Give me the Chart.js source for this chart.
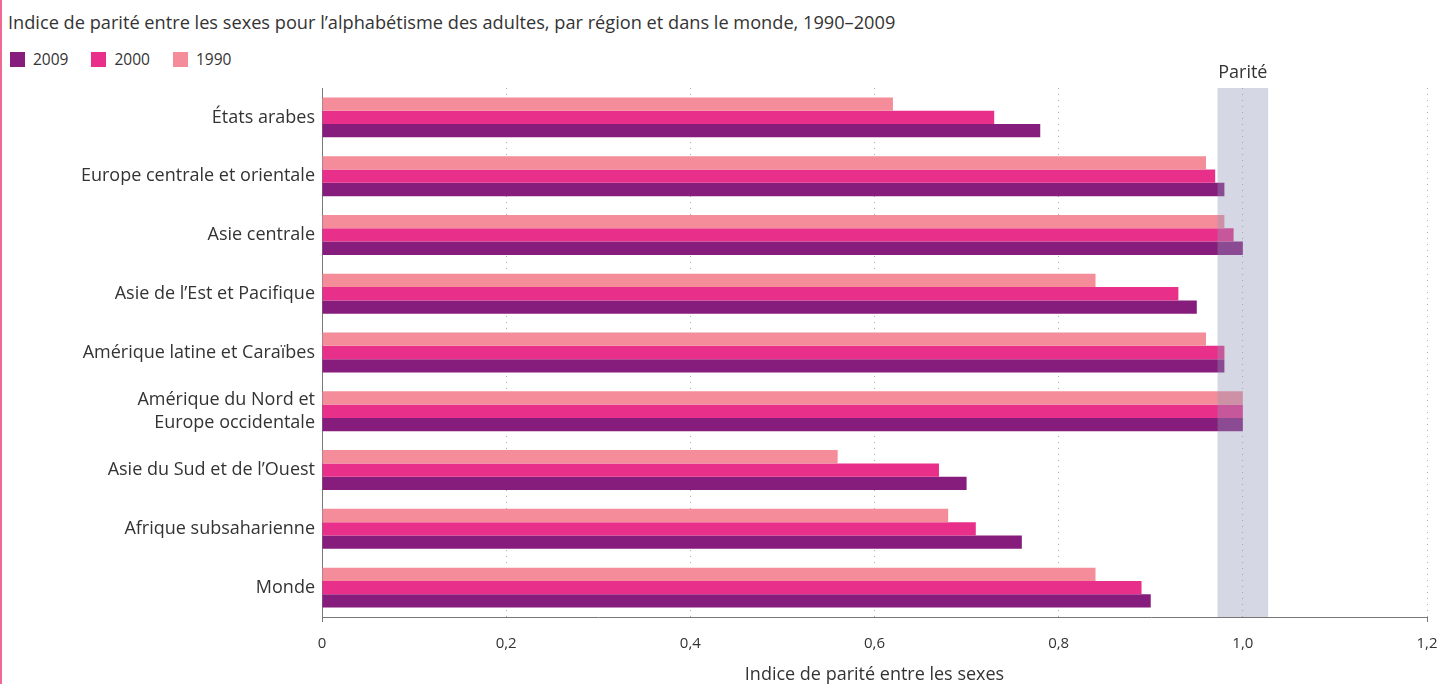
<!DOCTYPE html>
<html>
<head>
<meta charset="utf-8">
<script src="https://cdn.jsdelivr.net/npm/chart.js@4/dist/chart.umd.min.js"></script>
<style>
  html, body { margin: 0; padding: 0; background: #fff; }
  body { width: 1441px; height: 684px; position: relative; overflow: hidden; font-family: "Open Sans", sans-serif; }
  #frame { position: absolute; left: 0; top: 0; width: 2px; height: 684px; background: #EE6A95; }
  #title { position: absolute; left: 8px; top: 9px; font-size: 18.2px; color: #333; white-space: nowrap; line-height: 26px; }
  #legend { position: absolute; left: 10px; top: 49px; display: flex; font-size: 15.5px; color: #333; line-height: 20px; }
  #legend .item { display: flex; align-items: center; margin-right: 23px; }
  #legend .box { width: 15px; height: 15px; margin-right: 8px; }
  canvas { position: absolute; left: 0; top: 0; }
</style>
</head>
<body>
<div id="frame"></div>
<div id="title">Indice de parité entre les sexes pour l’alphabétisme des adultes, par région et dans le monde, 1990–2009</div>
<div id="legend"></div>
<canvas id="c" width="1441" height="684"></canvas>
<script>
const categories = [
  'États arabes',
  'Europe centrale et orientale',
  'Asie centrale',
  'Asie de l’Est et Pacifique',
  'Amérique latine et Caraïbes',
  ['Amérique du Nord et', 'Europe occidentale'],
  'Asie du Sud et de l’Ouest',
  'Afrique subsaharienne',
  'Monde'
];
const values1990 = [0.62, 0.96, 0.98, 0.84, 0.96, 1.00, 0.56, 0.68, 0.84];
const values2000 = [0.73, 0.97, 0.99, 0.93, 0.98, 1.00, 0.67, 0.71, 0.89];
const values2009 = [0.78, 0.98, 1.00, 0.95, 0.98, 1.00, 0.70, 0.76, 0.90];
const xTicks = [0, 0.2, 0.4, 0.6, 0.8, 1.0, 1.2];
const parityRange = [0.9725, 1.0275];
const parityLabel = 'Parité';
const xAxisTitle = 'Indice de parité entre les sexes';

const colors = { y2009: '#861C7B', y2000: '#E82F8A', y1990: '#F48C99' };

const parityPlugin = {
  id: 'parity',
  afterDatasetsDraw(chart) {
    const { ctx, chartArea, scales } = chart;
    const x0 = scales.x.getPixelForValue(parityRange[0]);
    const x1 = scales.x.getPixelForValue(parityRange[1]);
    ctx.save();
    ctx.fillStyle = 'rgba(145,153,185,0.38)';
    ctx.fillRect(x0, chartArea.top, x1 - x0, chartArea.bottom - chartArea.top);
    ctx.fillStyle = '#333';
    ctx.font = '18px "Open Sans", sans-serif';
    ctx.textAlign = 'center';
    ctx.textBaseline = 'middle';
    ctx.fillText(parityLabel, (x0 + x1) / 2, chartArea.top - 15);
    ctx.restore();
  }
};

const chart = new Chart(document.getElementById('c'), {
  type: 'bar',
  data: {
    labels: categories,
    datasets: [
      { label: '1990', data: values1990, backgroundColor: colors.y1990 },
      { label: '2000', data: values2000, backgroundColor: colors.y2000 },
      { label: '2009', data: values2009, backgroundColor: colors.y2009 }
    ]
  },
  options: {
    indexAxis: 'y',
    responsive: false,
    animation: false,
    devicePixelRatio: 1,
    layout: { padding: { top: 88, right: 14, left: 0, bottom: 0 } },
    datasets: { bar: { categoryPercentage: 0.68, barPercentage: 1.0, borderWidth: 0 } },
    plugins: {
      legend: { display: false },
      title: { display: false },
      tooltip: { enabled: false }
    },
    scales: {
      x: {
        type: 'linear',
        min: 0,
        max: 1.2,
        afterBuildTicks(scale) { scale.ticks = xTicks.map(v => ({ value: v })); },
        afterFit(scale) { scale.height = 67; scale.paddingLeft = 0; scale.paddingRight = 0; },
        ticks: {
          padding: 13,
          color: '#333',
          font: { family: '"Open Sans", sans-serif', size: 15 },
          callback: v => (v === 0 ? '0' : v.toFixed(1).replace('.', ','))
        },
        grid: {
          color: ctx => (ctx.index === 0 ? 'rgba(0,0,0,0)' : '#B0B0B0'),
          drawTicks: true,
          tickLength: 5,
          tickBorderDash: [],
          tickColor: ctx => (ctx.index === 0 || ctx.index === xTicks.length - 1 ? '#777' : 'rgba(0,0,0,0)')
        },
        border: { display: true, color: '#777', width: 1, dash: [1, 5] },
        title: {
          display: true,
          text: xAxisTitle,
          color: '#333',
          font: { family: '"Open Sans", sans-serif', size: 18 },
          padding: { top: 0, bottom: -2 }
        }
      },
      y: {
        afterFit(scale) { scale.width = 322; },
        grid: { display: false, tickLength: 0 },
        border: { display: true, color: '#777', width: 1 },
        ticks: {
          padding: 7,
          color: '#333',
          font: { family: '"Open Sans", sans-serif', size: 18, lineHeight: 1.3 }
        }
      }
    }
  },
  plugins: [parityPlugin]
});

// HTML legend built from the datasets (shown in reverse order: 2009, 2000, 1990)
const legendEl = document.getElementById('legend');
chart.data.datasets.slice().reverse().forEach(ds => {
  const item = document.createElement('div');
  item.className = 'item';
  const box = document.createElement('span');
  box.className = 'box';
  box.style.background = ds.backgroundColor;
  const txt = document.createElement('span');
  txt.textContent = ds.label;
  item.appendChild(box);
  item.appendChild(txt);
  legendEl.appendChild(item);
});
</script>
</body>
</html>
